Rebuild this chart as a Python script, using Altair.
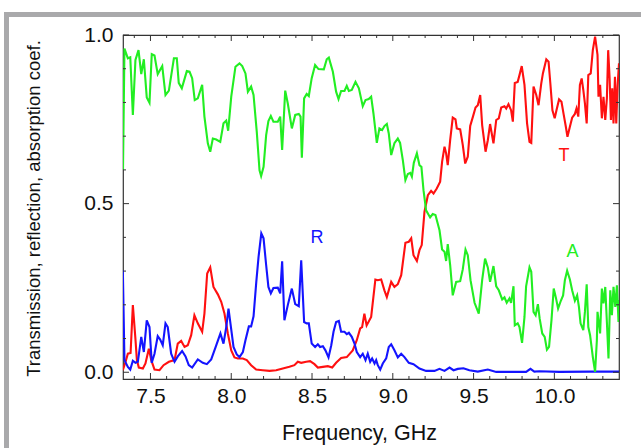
import altair as alt
import pandas as pd

# Transmission (T), reflection (R) and absorption (A) spectra, frequency in GHz
t_freq = [7.329, 7.346, 7.360, 7.377, 7.391, 7.406, 7.416, 7.428, 7.453, 7.469, 7.490, 7.505, 7.525,
          7.556, 7.581, 7.614, 7.649, 7.669, 7.690, 7.711, 7.731, 7.752, 7.772, 7.793, 7.820, 7.834,
          7.851, 7.870, 7.890, 7.917, 7.938, 7.958, 7.979, 8.000, 8.020, 8.041, 8.072, 8.096, 8.123,
          8.154, 8.195, 8.237, 8.278, 8.319, 8.360, 8.391, 8.412, 8.433, 8.464, 8.488, 8.515, 8.536,
          8.567, 8.598, 8.625, 8.649, 8.680, 8.715, 8.752, 8.777, 8.798, 8.810, 8.824, 8.838, 8.866,
          8.892, 8.907, 8.928, 8.948, 8.963, 8.990, 9.010, 9.031, 9.052, 9.078, 9.099, 9.114, 9.128,
          9.149, 9.165, 9.179, 9.196, 9.217, 9.237, 9.252, 9.272, 9.293, 9.305, 9.320, 9.330, 9.340,
          9.355, 9.371, 9.388, 9.396, 9.417, 9.433, 9.448, 9.464, 9.479, 9.496, 9.512, 9.526, 9.541,
          9.553, 9.574, 9.588, 9.602, 9.623, 9.640, 9.656, 9.671, 9.691, 9.702, 9.716, 9.732, 9.743,
          9.755, 9.773, 9.784, 9.798, 9.815, 9.831, 9.846, 9.857, 9.871, 9.888, 9.902, 9.919, 9.929,
          9.950, 9.964, 9.975, 9.988, 10.002, 10.013, 10.029, 10.044, 10.058, 10.071, 10.081, 10.096,
          10.110, 10.127, 10.137, 10.148, 10.158, 10.169, 10.179, 10.189, 10.200, 10.210, 10.225,
          10.238, 10.252, 10.267, 10.273, 10.283, 10.294, 10.304, 10.315, 10.325, 10.333, 10.342,
          10.350, 10.358, 10.366, 10.375, 10.383, 10.391, 10.400]
t_val = [0.006, 0.031, 0.055, 0.057, 0.199, 0.105, 0.036, 0.014, 0.011, 0.026, 0.070, 0.036, 0.008,
         0.006, 0.021, 0.031, 0.036, 0.085, 0.093, 0.075, 0.080, 0.110, 0.169, 0.145, 0.120, 0.174,
         0.293, 0.311, 0.253, 0.231, 0.209, 0.174, 0.115, 0.065, 0.044, 0.041, 0.041, 0.036, 0.021,
         0.008, 0.006, 0.004, 0.006, 0.011, 0.016, 0.021, 0.031, 0.028, 0.031, 0.033, 0.024, 0.014,
         0.016, 0.018, 0.014, 0.028, 0.042, 0.045, 0.065, 0.095, 0.130, 0.134, 0.174, 0.139, 0.164,
         0.275, 0.273, 0.275, 0.243, 0.223, 0.268, 0.253, 0.261, 0.288, 0.384, 0.387, 0.397, 0.347,
         0.330, 0.362, 0.377, 0.476, 0.525, 0.538, 0.530, 0.545, 0.565, 0.624, 0.669, 0.649, 0.614,
         0.688, 0.755, 0.750, 0.723, 0.720, 0.674, 0.619, 0.639, 0.730, 0.758, 0.785, 0.792, 0.822,
         0.733, 0.654, 0.688, 0.736, 0.679, 0.748, 0.753, 0.785, 0.789, 0.782, 0.795, 0.777, 0.743,
         0.858, 0.861, 0.881, 0.908, 0.852, 0.738, 0.683, 0.680, 0.847, 0.822, 0.792, 0.857, 0.886,
         0.928, 0.921, 0.857, 0.777, 0.753, 0.777, 0.809, 0.802, 0.763, 0.728, 0.698, 0.728,
         0.755, 0.766, 0.782, 0.758, 0.852, 0.871, 0.837, 0.797, 0.738, 0.881, 0.886,
         0.955, 0.995, 0.941, 0.817, 0.852, 0.753, 0.817, 0.748, 0.812, 0.955, 0.871,
         0.748, 0.842, 0.738, 0.876, 0.738, 0.847, 0.916]

r_freq = [7.329, 7.339, 7.360, 7.375, 7.391, 7.407, 7.422, 7.443, 7.459, 7.477, 7.494, 7.508, 7.525,
          7.545, 7.560, 7.576, 7.593, 7.607, 7.628, 7.649, 7.669, 7.696, 7.717, 7.737, 7.758, 7.793,
          7.824, 7.849, 7.876, 7.907, 7.933, 7.952, 7.969, 7.983, 7.995, 8.014, 8.034, 8.051, 8.072,
          8.088, 8.109, 8.123, 8.138, 8.155, 8.169, 8.186, 8.200, 8.216, 8.230, 8.245, 8.261, 8.288,
          8.303, 8.315, 8.329, 8.350, 8.375, 8.396, 8.418, 8.433, 8.451, 8.467, 8.480, 8.498, 8.519,
          8.536, 8.550, 8.567, 8.583, 8.602, 8.619, 8.633, 8.649, 8.666, 8.680, 8.701, 8.715, 8.728,
          8.746, 8.763, 8.777, 8.798, 8.814, 8.831, 8.845, 8.860, 8.872, 8.887, 8.897, 8.907, 8.922,
          8.938, 8.959, 8.975, 8.990, 9.010, 9.031, 9.052, 9.072, 9.099, 9.128, 9.165, 9.206, 9.258,
          9.289, 9.320, 9.351, 9.376, 9.402, 9.437, 9.474, 9.526, 9.588, 9.640, 9.722, 9.825, 9.852,
          9.876, 9.907, 10.031, 10.217, 10.400]
r_val = [0.303, 0.036, 0.016, 0.008, 0.034, 0.028, 0.031, 0.105, 0.060, 0.154, 0.134, 0.028, 0.055,
         0.107, 0.097, 0.080, 0.145, 0.134, 0.055, 0.031, 0.047, 0.063, 0.047, 0.021, 0.014, 0.038,
         0.028, 0.024, 0.038, 0.080, 0.115, 0.085, 0.134, 0.189, 0.145, 0.075, 0.053, 0.045, 0.060,
         0.095, 0.136, 0.136, 0.166, 0.268, 0.342, 0.412, 0.397, 0.318, 0.253, 0.234, 0.250, 0.251,
         0.234, 0.329, 0.154, 0.199, 0.248, 0.202, 0.196, 0.332, 0.149, 0.145, 0.145, 0.085, 0.075,
         0.083, 0.075, 0.077, 0.065, 0.044, 0.080, 0.120, 0.149, 0.152, 0.120, 0.120, 0.113, 0.117,
         0.105, 0.085, 0.060, 0.045, 0.055, 0.036, 0.055, 0.031, 0.041, 0.026, 0.036, 0.021, 0.008,
         0.026, 0.041, 0.075, 0.083, 0.065, 0.044, 0.055, 0.045, 0.028, 0.024, 0.011, 0.004, 0.004,
         0.010, 0.004, 0.014, 0.006, 0.010, 0.012, 0.006, 0.002, 0.008, 0.001, 0.001, 0.001, 0.010,
         0.002, 0.003, 0.001, 0.002, 0.002]

a_freq = [7.330, 7.339, 7.360, 7.375, 7.391, 7.407, 7.426, 7.443, 7.459, 7.477, 7.494, 7.508, 7.525,
          7.545, 7.573, 7.593, 7.614, 7.645, 7.663, 7.675, 7.694, 7.725, 7.742, 7.758, 7.774, 7.793,
          7.820, 7.834, 7.855, 7.870, 7.886, 7.907, 7.932, 7.952, 7.969, 7.981, 8.000, 8.026, 8.051,
          8.068, 8.088, 8.103, 8.123, 8.138, 8.158, 8.175, 8.185, 8.200, 8.216, 8.230, 8.245, 8.261,
          8.288, 8.303, 8.315, 8.334, 8.350, 8.375, 8.396, 8.418, 8.429, 8.437, 8.451, 8.467, 8.480,
          8.498, 8.519, 8.540, 8.573, 8.591, 8.604, 8.629, 8.649, 8.664, 8.680, 8.701, 8.715, 8.728,
          8.746, 8.769, 8.790, 8.814, 8.831, 8.851, 8.866, 8.880, 8.901, 8.917, 8.934, 8.948, 8.963,
          8.975, 8.990, 9.010, 9.031, 9.045, 9.062, 9.078, 9.093, 9.108, 9.118, 9.130, 9.149, 9.165,
          9.177, 9.190, 9.206, 9.231, 9.247, 9.264, 9.289, 9.305, 9.320, 9.330, 9.340, 9.355, 9.371,
          9.392, 9.417, 9.433, 9.450, 9.464, 9.481, 9.506, 9.532, 9.553, 9.571, 9.588, 9.602, 9.623,
          9.640, 9.656, 9.677, 9.691, 9.705, 9.722, 9.732, 9.747, 9.755, 9.773, 9.784, 9.800, 9.815,
          9.825, 9.846, 9.857, 9.871, 9.884, 9.898, 9.909, 9.925, 9.940, 9.954, 9.967, 9.982, 9.996,
          10.009, 10.023, 10.040, 10.054, 10.065, 10.079, 10.096, 10.110, 10.127, 10.141, 10.152,
          10.162, 10.179, 10.189, 10.200, 10.210, 10.221, 10.238, 10.252, 10.263, 10.267, 10.283,
          10.294, 10.304, 10.315, 10.325, 10.335, 10.346, 10.356, 10.366, 10.377, 10.387, 10.397,
          10.400]
a_val = [0.600, 0.960, 0.931, 0.934, 0.763, 0.926, 0.955, 0.884, 0.928, 0.815, 0.799, 0.943, 0.939,
         0.884, 0.908, 0.822, 0.835, 0.931, 0.931, 0.858, 0.842, 0.893, 0.891, 0.872, 0.807, 0.812,
         0.852, 0.758, 0.679, 0.654, 0.693, 0.690, 0.683, 0.738, 0.746, 0.716, 0.817, 0.906, 0.916,
         0.908, 0.886, 0.832, 0.847, 0.822, 0.713, 0.599, 0.582, 0.609, 0.703, 0.745, 0.760, 0.743,
         0.743, 0.758, 0.659, 0.835, 0.797, 0.723, 0.763, 0.766, 0.758, 0.636, 0.812, 0.825, 0.819,
         0.872, 0.911, 0.899, 0.898, 0.928, 0.933, 0.891, 0.832, 0.810, 0.834, 0.834, 0.849, 0.834,
         0.837, 0.861, 0.842, 0.789, 0.807, 0.810, 0.817, 0.768, 0.680, 0.723, 0.718, 0.730, 0.736,
         0.708, 0.644, 0.679, 0.693, 0.680, 0.629, 0.570, 0.588, 0.591, 0.580, 0.621, 0.649, 0.614,
         0.609, 0.540, 0.480, 0.459, 0.469, 0.466, 0.421, 0.364, 0.357, 0.330, 0.380, 0.318, 0.228,
         0.268, 0.270, 0.305, 0.364, 0.347, 0.273, 0.206, 0.174, 0.273, 0.337, 0.311, 0.268, 0.315,
         0.255, 0.243, 0.216, 0.222, 0.206, 0.219, 0.206, 0.255, 0.139, 0.145, 0.134, 0.087, 0.164,
         0.255, 0.311, 0.298, 0.179, 0.169, 0.202, 0.159, 0.115, 0.105, 0.067, 0.075, 0.154, 0.248,
         0.222, 0.189, 0.212, 0.228, 0.273, 0.301, 0.275, 0.243, 0.212, 0.228, 0.194,
         0.145, 0.125, 0.179, 0.261, 0.134, 0.110, 0.045, 0.001, 0.095, 0.179, 0.115,
         0.248, 0.204, 0.253, 0.149, 0.041, 0.243, 0.169, 0.253, 0.194, 0.258, 0.149,
         0.214]

# Curve labels
label_text = ["T", "R", "A"]
label_freq = [10.059, 8.531, 10.112]
label_val = [0.642, 0.398, 0.356]
label_color = ["#ff1010", "#1414ff", "#22ee22"]

# Axis ticks
x_major = [7.5, 8.0, 8.5, 9.0, 9.5, 10.0]
x_minor = [7.4, 7.6, 7.7, 7.8, 7.9, 8.1, 8.2, 8.3, 8.4, 8.6, 8.7, 8.8, 8.9,
           9.1, 9.2, 9.3, 9.4, 9.6, 9.7, 9.8, 9.9, 10.1, 10.2, 10.3]
y_major = [0.0, 0.5, 1.0]
y_minor = [0.1, 0.2, 0.3, 0.4, 0.6, 0.7, 0.8, 0.9]

W, H = 496, 344
FONT = "Liberation Sans"

xscale = alt.Scale(domain=[7.33, 10.40], nice=False, zero=False)
yscale = alt.Scale(domain=[-0.02, 1.0], nice=False, zero=False)

xaxis = alt.Axis(values=x_major, format=".1f", tickSize=0, domain=False, grid=False,
                 labelFontSize=21, labelPadding=6, labelColor="#111", labelFont=FONT,
                 title="Frequency, GHz", titleFontSize=21.5, titleFontWeight="normal",
                 titleFont=FONT, titleColor="#111", titleX=236, titleY=54,
                 titleAlign="center", titleBaseline="middle")
yaxis = alt.Axis(values=y_major, format=".1f", tickSize=0, domain=False, grid=False,
                 labelFontSize=21, labelPadding=10, labelColor="#111", labelFont=FONT,
                 title="Transmission, reflection, absorption coef.", titleFontSize=18.5,
                 titleFontWeight="normal", titleFont=FONT, titleColor="#111",
                 titleX=-90, titleY=173, titleAngle=270, titleAlign="center",
                 titleBaseline="middle")

X = alt.X("freq:Q", scale=xscale, axis=xaxis)
Y = alt.Y("val:Q", scale=yscale, axis=yaxis)


def series(freq, val, color):
    df = pd.DataFrame({"freq": freq, "val": val})
    return alt.Chart(df).mark_line(color=color, strokeWidth=2.1, clip=True).encode(
        x=X, y=Y, order="freq:Q")


t_line = series(t_freq, t_val, "#ff1010")
r_line = series(r_freq, r_val, "#1414ff")
a_line = series(a_freq, a_val, "#22ee22")

labels = alt.Chart(pd.DataFrame({"freq": label_freq, "val": label_val,
                                 "name": label_text, "c": label_color})).mark_text(
    fontSize=18, font=FONT, align="center", baseline="middle").encode(
    x=X, y=Y, text="name:N", color=alt.Color("c:N", scale=None))


def xticks(values, length):
    df = pd.DataFrame({"freq": values})
    bottom = alt.Chart(df).mark_rule(color="#333", strokeWidth=1).encode(
        x=X, y=alt.value(H), y2=alt.value(H - length))
    top = alt.Chart(df).mark_rule(color="#333", strokeWidth=1).encode(
        x=X, y=alt.value(0), y2=alt.value(length))
    return bottom + top


def yticks(values, length):
    df = pd.DataFrame({"val": values})
    left = alt.Chart(df).mark_rule(color="#333", strokeWidth=1).encode(
        y=Y, x=alt.value(0), x2=alt.value(length))
    right = alt.Chart(df).mark_rule(color="#333", strokeWidth=1).encode(
        y=Y, x=alt.value(W), x2=alt.value(W - length))
    return left + right


# Grey outer frame around the figure
frame = alt.Chart(pd.DataFrame({"k": [0]})).mark_rect(
    fillOpacity=0, stroke="#a9a9ab", strokeWidth=5).encode(
    x=alt.value(-116.5), x2=alt.value(W + 200), y=alt.value(-20.5), y2=alt.value(H + 200))

chart = alt.layer(
    frame,
    t_line, r_line, a_line,
    xticks(x_major, 6), xticks(x_minor, 3),
    yticks(y_major, 6), yticks(y_minor, 3),
    labels,
).properties(
    width=W, height=H,
    autosize=alt.AutoSizeParams(type="none"),
    padding={"left": 123, "top": 35, "right": 22, "bottom": 69},
    background="white",
).configure_view(stroke="#333", strokeWidth=1.2)

chart.save("out.html", embed_options={"renderer": "svg", "actions": False})
